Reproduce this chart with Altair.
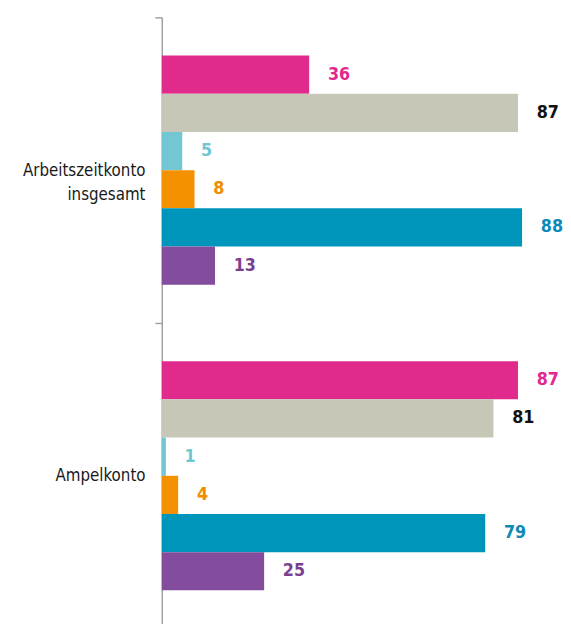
import altair as alt
import pandas as pd

categories = ["Arbeitszeitkonto insgesamt", "Ampelkonto"]
series = ["Reihe 1", "Reihe 2", "Reihe 3", "Reihe 4", "Reihe 5", "Reihe 6"]
values_arbeitszeitkonto = [36, 87, 5, 8, 88, 13]
values_ampelkonto = [87, 81, 1, 4, 79, 25]

bar_colors = ["#e02b8c", "#c7c7b8", "#72c7d3", "#f39100", "#0095bb", "#834c9c"]
label_colors = ["#e0288f", "#111111", "#6fc6d2", "#f08c00", "#0a8ab5", "#7b3f91"]
label_sizes = [18, 18, 18, 18, 22, 18]

rows = []
for cat, vals in zip(categories, [values_arbeitszeitkonto, values_ampelkonto]):
    for s, v in zip(series, vals):
        rows.append({"category": cat, "series": s, "value": v})
df = pd.DataFrame(rows)

FONT = "DejaVu Sans Condensed"

base = alt.Chart(df).encode(
    y=alt.Y(
        "category:N",
        sort=categories,
        scale=alt.Scale(paddingInner=0, paddingOuter=0),
        axis=alt.Axis(
            title=None,
            tickBand="extent",
            labelExpr="split(datum.label, ' ')",
            labelFont=FONT,
            labelFontSize=17,
            labelColor="#1a1a1a",
            labelLineHeight=25,
            labelPadding=10,
            tickSize=7,
            tickColor="#a0a0a0",
            domainColor="#a0a0a0",
            domainWidth=1.5,
            tickWidth=1.5,
            grid=False,
        ),
    ),
    yOffset=alt.YOffset(
        "series:N", sort=series, scale=alt.Scale(paddingInner=0, paddingOuter=1)
    ),
)

xscale = alt.Scale(domain=[0, 92.7])

bars = base.mark_bar().encode(
    x=alt.X("value:Q", scale=xscale, axis=None),
    color=alt.Color(
        "series:N", scale=alt.Scale(domain=series, range=bar_colors), legend=None
    ),
)

text = base.mark_text(
    align="left", baseline="middle", dx=19, fontWeight="bold", font=FONT
).encode(
    x=alt.X("value:Q", scale=xscale, axis=None),
    text=alt.Text("value:Q"),
    color=alt.Color(
        "series:N", scale=alt.Scale(domain=series, range=label_colors), legend=None
    ),
    size=alt.Size(
        "series:N", scale=alt.Scale(domain=series, range=label_sizes), legend=None
    ),
)

chart = (
    alt.layer(bars, text)
    .resolve_scale(color="independent")
    .properties(
        width=385,
        height=620,
        autosize=alt.AutoSizeParams(type="none"),
        padding={"left": 156, "top": 5, "right": 22, "bottom": 0},
    )
    .configure_view(stroke=None)
)

chart.save("out.html", embed_options={"renderer": "svg", "actions": False})
